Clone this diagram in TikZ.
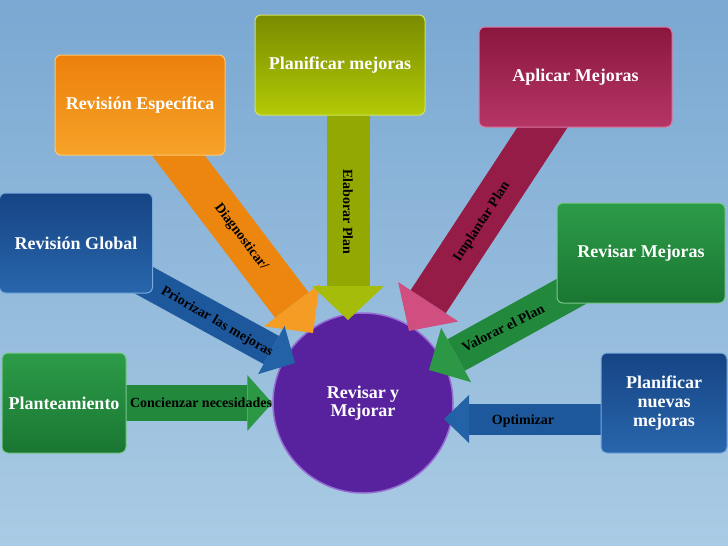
\documentclass[tikz,border=0pt]{standalone}
\usepackage{fontspec}
\setmainfont{Liberation Serif}
\usetikzlibrary{arrows.meta,calc}
\pgfdeclarelayer{bg}
\pgfdeclarelayer{arr}
\pgfsetlayers{bg,arr,main}
\definecolor{bgtop}{RGB}{122,168,210}
\definecolor{bgbot}{RGB}{170,203,228}
\definecolor{orTop}{RGB}{236,128,10}
\definecolor{orBot}{RGB}{246,162,40}
\definecolor{orEdge}{RGB}{250,200,110}
\definecolor{orArr}{RGB}{236,134,14}
\definecolor{orHead}{RGB}{245,156,36}
\definecolor{ygTop}{RGB}{122,138,0}
\definecolor{ygBot}{RGB}{178,202,6}
\definecolor{ygEdge}{RGB}{210,225,90}
\definecolor{ygArr}{RGB}{148,168,4}
\definecolor{ygHead}{RGB}{165,188,10}
\definecolor{crTop}{RGB}{138,22,62}
\definecolor{crBot}{RGB}{182,54,102}
\definecolor{crEdge}{RGB}{220,120,160}
\definecolor{crArr}{RGB}{150,28,72}
\definecolor{crHead}{RGB}{208,78,128}
\definecolor{blTop}{RGB}{22,68,132}
\definecolor{blBot}{RGB}{40,102,172}
\definecolor{blEdge}{RGB}{120,170,220}
\definecolor{blArr}{RGB}{30,88,156}
\definecolor{blHead}{RGB}{36,98,168}
\definecolor{grTop}{RGB}{26,118,50}
\definecolor{grBot}{RGB}{44,156,72}
\definecolor{grEdge}{RGB}{120,200,140}
\definecolor{grArr}{RGB}{34,136,60}
\definecolor{grHead}{RGB}{44,152,70}
\definecolor{puFill}{RGB}{88,34,158}
\definecolor{puEdge}{RGB}{150,110,210}
\begin{document}
\begin{tikzpicture}[x=1pt,y=-1pt,
  box/.style={rectangle, rounded corners=6pt, text=white, align=center,
    font=\bfseries\fontsize{18}{19}\selectfont, line width=1pt, inner sep=2pt,
    minimum height=100pt},
  lbl/.style={font=\bfseries\fontsize{14}{14}\selectfont, text=black, inner sep=0pt},
  blockarrow/.style n args={5}{draw=#1, line width=#3pt,
    -{Triangle[length=#5pt,width=#4pt,line width=0pt,fill=#2]}}
]
\useasboundingbox (0,0) rectangle (728,546);
\begin{pgfonlayer}{bg}
  \fill[top color=bgtop, bottom color=bgbot] (0,0) rectangle (728,546);
  \node[circle, minimum size=180pt, fill=puFill, draw=puEdge, line width=1.5pt,
    text=white, align=center, font=\bfseries\fontsize{18}{18}\selectfont]
    (circ) at (363,403) {Revisar y\\Mejorar};
\end{pgfonlayer}

% boxes
\node[box, minimum width=170pt, top color=orTop, bottom color=orBot, draw=orEdge]
  (boxE) at (140,105) {Revisión Específica};
\node[box, minimum width=170pt, top color=ygTop, bottom color=ygBot, draw=ygEdge]
  (boxP) at (340,65) {Planificar mejoras};
\node[box, minimum width=193pt, top color=crTop, bottom color=crBot, draw=crEdge]
  (boxA) at (575.5,77) {Aplicar Mejoras};
\node[box, minimum width=153pt, top color=blTop, bottom color=blBot, draw=blEdge]
  (boxG) at (76,243) {Revisión Global};
\node[box, minimum width=168pt, top color=grBot, bottom color=grTop, draw=grEdge]
  (boxR) at (641,253) {Revisar Mejoras};
\node[box, minimum width=124pt, top color=grBot, bottom color=grTop, draw=grEdge]
  (boxT) at (64,403) {Planteamiento};
\node[box, minimum width=126pt, top color=blTop, bottom color=blBot, draw=blEdge]
  (boxN) at (664,403) {Planificar\\nuevas\\mejoras};

% block arrows
\begin{pgfonlayer}{arr}
  \draw[blockarrow={orArr}{orHead}{42}{70}{35}]
    (boxE.center) -- ($(circ.center)+(-50,-70)$);
  \draw[blockarrow={ygArr}{ygHead}{43}{72}{34}]
    ($(boxP.center)+(8,0)$) -- ($(circ.center)+(-15,-83)$);
  \draw[blockarrow={crArr}{crHead}{42}{72}{35}]
    (boxA.center) -- ($(circ.center)+(46,-72)$);
  \draw[blockarrow={blArr}{blHead}{32}{55}{27}]
    (boxG.center) -- ($(circ.center)+(-68,-40)$);
  \draw[blockarrow={grArr}{grHead}{36}{62}{31}]
    (boxR.center) -- ($(circ.center)+(66,-33)$);
  \draw[blockarrow={grArr}{grHead}{36}{56}{25}]
    (boxT.center) -- (circ.west);
  \draw[blockarrow={blArr}{blHead}{31}{48}{25}]
    ($(boxN.center)+(0,16)$) -- ($(circ.center)+(81,16)$);
\end{pgfonlayer}

% arrow labels
\node[lbl, rotate=-53] (lE) at (241,237) {Diagnosticar/};
\node[lbl, rotate=-90] (lP) at (348,212) {Elaborar Plan};
\node[lbl, rotate=57] (lA) at (482,222) {Implantar Plan};
\node[lbl, rotate=-30] (lG) at (217,322) {Priorizar las mejoras};
\node[lbl, rotate=27] (lR) at (503,328) {Valorar el Plan};
\node[lbl] (lT) at (201,403) {Concienzar necesidades};
\node[lbl] (lN) at (523,421) {Optimizar};
\end{tikzpicture}
\end{document}
